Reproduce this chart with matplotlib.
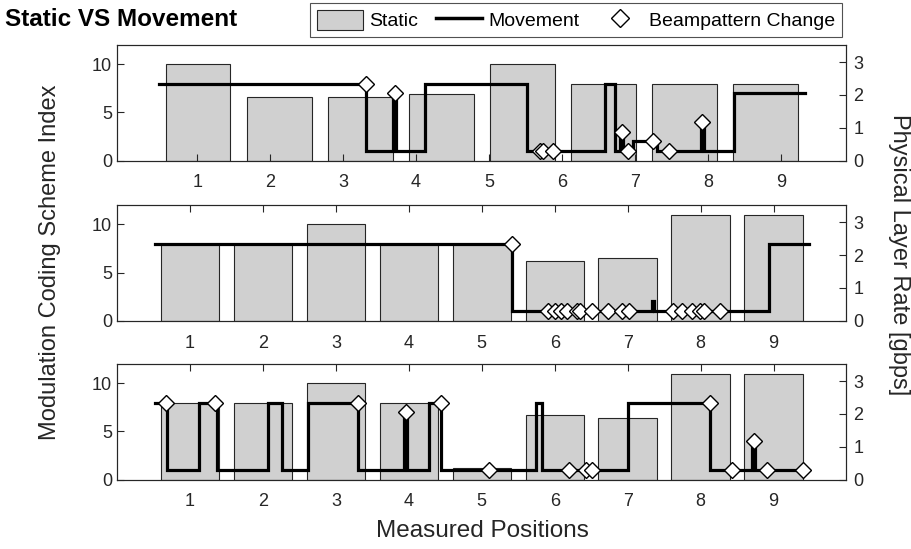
import matplotlib
matplotlib.use("Agg")
import matplotlib.pyplot as plt
from matplotlib.patches import Patch
from matplotlib.lines import Line2D
from matplotlib.legend_handler import HandlerLine2D

plt.rcParams["font.family"] = ["Liberation Sans", "DejaVu Sans"]

# ---------------- data ----------------
positions = [1, 2, 3, 4, 5, 6, 7, 8, 9]
position_labels = ["1", "2", "3", "4", "5", "6", "7", "8", "9"]

# static MCS index per measured position
static_slots_a = [1, 2, 3, 4, 5, 6, 7, 8]
static_mcs_a = [10, 6.6, 6.6, 6.9, 10, 8, 8, 8]
static_mcs_b = [8, 8, 10, 8, 8, 6.2, 6.5, 11, 11]
static_mcs_c = [8, 8, 10, 8, 1.2, 6.7, 6.4, 11, 11]

# movement trace: breakpoints along the walk and MCS held from each breakpoint
move_t_a = [0.47, 3.31, 3.69, 3.73, 4.12, 5.52, 6.59, 6.73, 6.80, 6.84,
            6.98, 7.30, 7.90, 7.94, 8.36, 9.33]
move_mcs_a = [8, 1, 7, 1, 8, 1, 8, 1, 3, 1, 2, 1, 4, 1, 7, 7]
change_t_a = [3.31, 3.71, 5.70, 5.74, 5.87, 6.82, 6.91, 7.25, 7.46, 7.92]
change_mcs_a = [8, 7, 1, 1, 1, 3, 1, 2, 1, 4]

move_t_b = [0.52, 5.41, 7.33, 7.36, 8.94, 9.49]
move_mcs_b = [8, 1, 2, 1, 8, 8]
change_t_b = [5.41, 5.91, 6.00, 6.09, 6.17, 6.30, 6.34, 6.51, 6.73, 6.92,
              7.02, 7.62, 7.75, 7.88, 7.99, 8.05, 8.26]
change_mcs_b = [8, 1, 1, 1, 1, 1, 1, 1, 1, 1, 1, 1, 1, 1, 1, 1, 1]

move_t_c = [0.52, 0.68, 1.12, 1.37, 2.07, 2.26, 2.62, 3.31, 3.93, 3.98,
            4.28, 4.44, 5.74, 5.82, 7.00, 8.13, 8.71, 8.75, 9.47]
move_mcs_c = [8, 1, 8, 1, 8, 1, 8, 1, 7, 1, 8, 1, 8, 1, 8, 1, 4, 1, 1]
change_t_c = [0.67, 1.34, 3.30, 3.96, 4.44, 5.10, 6.19, 6.43, 6.51, 8.13,
              8.43, 8.73, 8.91, 9.41]
change_mcs_c = [8, 8, 8, 7, 8, 1, 1, 1, 1, 8, 1, 4, 1, 1]

mcs_ticks = [0, 5, 10]
rate_ticks = [0, 1, 2, 3]

# ---------------- style ----------------
AX_COL = "#262626"
BAR_FACE = "#d0d0d0"
TICK_FS = 13
TICK_LEN = 5

W, H = 912, 549
fig = plt.figure(figsize=(W / 100, H / 100), dpi=100)

left = 117 / W
width = (846.5 - 117) / W
heights = 115.5 / H
bottoms = [1 - 160.5 / H, 1 - 320.7 / H, 1 - 479.5 / H]


def style_axis(ax):
    for s in ax.spines.values():
        s.set_color(AX_COL)
        s.set_linewidth(0.8)
    ax.tick_params(colors=AX_COL, labelcolor=AX_COL, labelsize=TICK_FS,
                   direction="in", length=TICK_LEN, width=0.8)


def add_rate_axis(ax):
    axr = ax.twinx()
    axr.set_ylim(0, 3.52)
    axr.set_yticks(rate_ticks)
    style_axis(axr)
    axr.tick_params(axis="y", pad=5)
    return axr


def draw_movement(ax, t, mcs, ct, cm):
    ax.step(t, mcs, where="post", color="black", lw=2.3, zorder=3,
            solid_joinstyle="miter")
    ax.plot(ct, cm, linestyle="none", marker="D", markersize=7.8,
            markerfacecolor="white", markeredgecolor="black",
            markeredgewidth=1.0, zorder=4)


class MarkerAtRight(HandlerLine2D):
    """Legend handler that puts a lone marker next to its label."""

    def get_xdata(self, legend, xdescent, ydescent, width, height, fontsize):
        xdata, _ = super().get_xdata(legend, xdescent, ydescent, width,
                                     height, fontsize)
        return xdata, [-xdescent + width - 0.4 * fontsize]


# --- panel A: eight static slots, positions on an overlaid x scale ---
axA = fig.add_axes([left, bottoms[0], width, heights])
axA.bar(static_slots_a, static_mcs_a, width=0.8, color=BAR_FACE,
        edgecolor=AX_COL, linewidth=0.8, zorder=2)
axA.set_xlim(0, 9)
axA.set_ylim(0, 12)
axA.set_yticks(mcs_ticks)
axA.set_xticks(static_slots_a)
axA.set_xticklabels([])
style_axis(axA)
axA.tick_params(axis="x", top=True, bottom=False)
add_rate_axis(axA)
axA_pos = axA.twiny()
axA_pos.set_xlim(-0.1, 9.9)
axA_pos.set_xticks(positions)
axA_pos.set_xticklabels(position_labels)
style_axis(axA_pos)
axA_pos.xaxis.set_ticks_position("bottom")
axA_pos.xaxis.set_label_position("bottom")
axA_pos.tick_params(axis="x", bottom=True, top=False, pad=10)
for s in axA_pos.spines.values():
    s.set_visible(False)
draw_movement(axA_pos, move_t_a, move_mcs_a, change_t_a, change_mcs_a)

# --- panels B and C ---
panels = [
    (bottoms[1], static_mcs_b, move_t_b, move_mcs_b, change_t_b, change_mcs_b),
    (bottoms[2], static_mcs_c, move_t_c, move_mcs_c, change_t_c, change_mcs_c),
]
axes = []
for bottom, smcs, t, m, ct, cm in panels:
    ax = fig.add_axes([left, bottom, width, heights])
    ax.bar(positions, smcs, width=0.8, color=BAR_FACE, edgecolor=AX_COL,
           linewidth=0.8, zorder=2)
    ax.set_xlim(0, 10)
    ax.set_ylim(0, 12)
    ax.set_yticks(mcs_ticks)
    ax.set_xticks(positions)
    ax.set_xticklabels(position_labels)
    style_axis(ax)
    ax.tick_params(axis="x", top=True, bottom=True, pad=10)
    draw_movement(ax, t, m, ct, cm)
    add_rate_axis(ax)
    axes.append(ax)

# --- shared labels, title, legend ---
fig.text(50 / W, 1 - 262 / H, "Modulation Coding Scheme Index", rotation=90,
         ha="center", va="center", fontsize=17, color=AX_COL)
fig.text(899 / W, 1 - 255 / H, "Physical Layer Rate [gbps]", rotation=-90,
         ha="center", va="center", fontsize=17, color=AX_COL)
fig.text(482 / W, 1 - 531 / H, "Measured Positions", ha="center",
         va="center", fontsize=17.5, color=AX_COL)
fig.text(5 / W, 1 - 19 / H, "Static VS Movement", ha="left", va="center",
         fontsize=17.5, fontweight="bold", color="black")

handles = [
    Patch(facecolor=BAR_FACE, edgecolor=AX_COL, linewidth=0.8),
    Line2D([], [], color="black", lw=2.5),
    Line2D([], [], linestyle="none", marker="D", markersize=9,
           markerfacecolor="white", markeredgecolor="black"),
]
leg = fig.legend(handles, ["Static", "Movement", "Beampattern Change"],
                 handler_map={handles[2]: MarkerAtRight()},
                 loc="upper left", bbox_to_anchor=(310 / W, 1 - 3 / H),
                 borderaxespad=0, ncol=3, fontsize=14, frameon=True,
                 fancybox=False, edgecolor=AX_COL, borderpad=0.35,
                 handlelength=2.4, handletextpad=0.3, columnspacing=0.9,
                 handleheight=1.2)
leg.get_frame().set_linewidth(0.8)

fig.savefig("out.png", dpi=100)
